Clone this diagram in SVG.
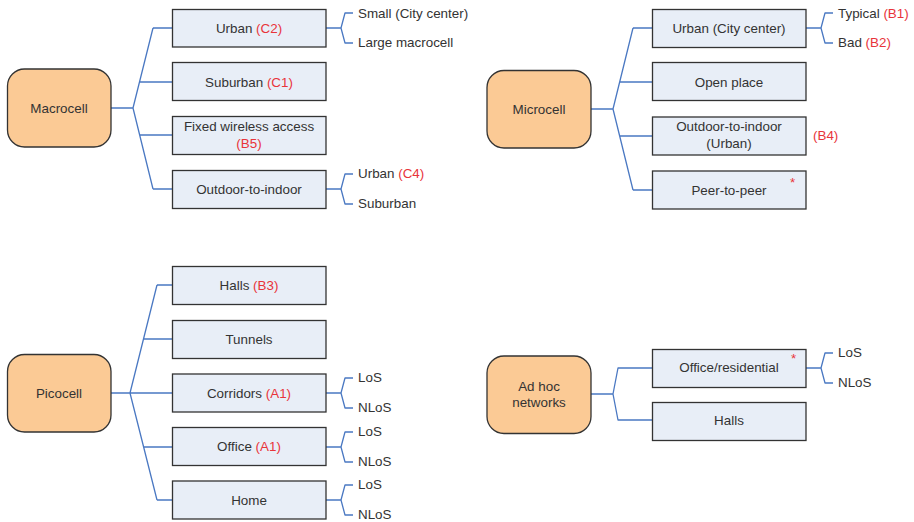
<svg xmlns="http://www.w3.org/2000/svg" width="914" height="522" viewBox="0 0 914 522">
  <style>
    .root { fill: #fbca95; stroke: #333333; stroke-width: 1.3; }
    .box { fill: #e8eef7; stroke: #333333; stroke-width: 1.3; }
    text { font-family: "Liberation Sans", Arial, sans-serif; font-size: 13.4px; fill: #333333; }
    .c { text-anchor: middle; }
    .red { fill: #e8343a; }
    .link { fill: none; stroke: #4a78c2; stroke-width: 1.3; stroke-linejoin: round; }
  </style>

  <!-- connectors -->
  <g id="connectors" class="link">
    <!-- Macrocell tree -->
    <path d="M111,108 H133 M153,28 L133,108 L153,189 M153,28 H172 M139.5,82 H172 M139.7,135 H172 M153,189 H172"/>
    <path d="M326,28 H341 M353,13 H345 L341,28 L345,43 H353"/>
    <path d="M326,189 H341 M353,174 H345 L341,189 L345,204 H353"/>
    <!-- Microcell tree -->
    <path d="M591,109 H613 M633,28 L613,109 L633,190 M633,28 H652 M619.7,82 H652 M619.7,136 H652 M633,190 H652"/>
    <path d="M806,28 H821 M833,13 H825 L821,28 L825,43 H833"/>
    <!-- Picocell tree -->
    <path d="M111,393 H130 M157,285 L130,393 L157,500 M157,285 H172 M143.5,339 H172 M130,393 H172 M143.5,447 H172 M157,500 H172"/>
    <path d="M326,393 H341 M353,378 H345 L341,393 L345,408 H353"/>
    <path d="M326,447 H341 M353,432 H345 L341,447 L345,462 H353"/>
    <path d="M326,500 H341 M353,485 H345 L341,500 L345,515 H353"/>
    <!-- Ad hoc tree -->
    <path d="M591,394 H613 M652,368 H618 L613,394 L618,420 H652"/>
    <path d="M806,368 H821 M833,353 H825 L821,368 L825,383 H833"/>
  </g>

  <!-- Macrocell -->
  <g id="macrocell">
    <rect class="root" x="7.5" y="69" width="103.5" height="78" rx="17"/>
    <text class="c" x="59" y="113">Macrocell</text>
  </g>
  <g id="macro-urban">
    <rect class="box" x="172.5" y="9.5" width="153.5" height="37.5"/>
    <text class="c" x="249" y="33">Urban <tspan class="red">(C2)</tspan></text>
  </g>
  <g id="macro-suburban">
    <rect class="box" x="172.5" y="62.5" width="153.5" height="38"/>
    <text class="c" x="249" y="87">Suburban <tspan class="red">(C1)</tspan></text>
  </g>
  <g id="macro-fwa">
    <rect class="box" x="172.5" y="116.5" width="153.5" height="38"/>
    <text class="c" x="249" y="131">Fixed wireless access</text>
    <text class="c red" x="249" y="148">(B5)</text>
  </g>
  <g id="macro-o2i">
    <rect class="box" x="172.5" y="170.5" width="153.5" height="38"/>
    <text class="c" x="249" y="194">Outdoor-to-indoor</text>
  </g>
  <g id="macro-urban-leaves">
    <text x="358" y="18">Small (City center)</text>
    <text x="358" y="47">Large macrocell</text>
  </g>
  <g id="macro-o2i-leaves">
    <text x="358" y="178">Urban <tspan class="red">(C4)</tspan></text>
    <text x="358" y="208">Suburban</text>
  </g>

  <!-- Microcell -->
  <g id="microcell">
    <rect class="root" x="487" y="70.5" width="104" height="77.5" rx="17"/>
    <text class="c" x="539" y="114">Microcell</text>
  </g>
  <g id="micro-urban">
    <rect class="box" x="652.5" y="9.5" width="153.5" height="38"/>
    <text class="c" x="729" y="33">Urban (City center)</text>
  </g>
  <g id="micro-open">
    <rect class="box" x="652.5" y="62.5" width="153.5" height="38"/>
    <text class="c" x="729" y="87">Open place</text>
  </g>
  <g id="micro-o2i">
    <rect class="box" x="652.5" y="117" width="153.5" height="38"/>
    <text class="c" x="729" y="131">Outdoor-to-indoor</text>
    <text class="c" x="729" y="148">(Urban)</text>
    <text class="red" x="813" y="140">(B4)</text>
  </g>
  <g id="micro-p2p">
    <rect class="box" x="652.5" y="171" width="153.5" height="38"/>
    <text class="c" x="729" y="195">Peer-to-peer</text>
    <text class="red" x="790" y="187">*</text>
  </g>
  <g id="micro-urban-leaves">
    <text x="838" y="18">Typical <tspan class="red">(B1)</tspan></text>
    <text x="838" y="47">Bad <tspan class="red">(B2)</tspan></text>
  </g>

  <!-- Picocell -->
  <g id="picocell">
    <rect class="root" x="7.5" y="354.5" width="103.5" height="77.5" rx="17"/>
    <text class="c" x="59" y="398">Picocell</text>
  </g>
  <g id="pico-halls">
    <rect class="box" x="172.5" y="266.5" width="153.5" height="38"/>
    <text class="c" x="249" y="290">Halls <tspan class="red">(B3)</tspan></text>
  </g>
  <g id="pico-tunnels">
    <rect class="box" x="172.5" y="320.5" width="153.5" height="38"/>
    <text class="c" x="249" y="344">Tunnels</text>
  </g>
  <g id="pico-corridors">
    <rect class="box" x="172.5" y="374" width="153.5" height="38"/>
    <text class="c" x="249" y="398">Corridors <tspan class="red">(A1)</tspan></text>
  </g>
  <g id="pico-office">
    <rect class="box" x="172.5" y="427.5" width="153.5" height="38"/>
    <text class="c" x="249" y="451">Office <tspan class="red">(A1)</tspan></text>
  </g>
  <g id="pico-home">
    <rect class="box" x="172.5" y="481" width="153.5" height="38"/>
    <text class="c" x="249" y="505">Home</text>
  </g>
  <g id="pico-corridors-leaves">
    <text x="358" y="382">LoS</text>
    <text x="358" y="412">NLoS</text>
  </g>
  <g id="pico-office-leaves">
    <text x="358" y="436">LoS</text>
    <text x="358" y="466">NLoS</text>
  </g>
  <g id="pico-home-leaves">
    <text x="358" y="489">LoS</text>
    <text x="358" y="519">NLoS</text>
  </g>

  <!-- Ad hoc networks -->
  <g id="adhoc">
    <rect class="root" x="487" y="356" width="104" height="77.5" rx="17"/>
    <text class="c" x="539" y="391">Ad hoc</text>
    <text class="c" x="539" y="407">networks</text>
  </g>
  <g id="adhoc-office">
    <rect class="box" x="652.5" y="349.5" width="153.5" height="38"/>
    <text class="c" x="729" y="372">Office/residential</text>
    <text class="red" x="791" y="363">*</text>
  </g>
  <g id="adhoc-halls">
    <rect class="box" x="652.5" y="402.5" width="153.5" height="38"/>
    <text class="c" x="729" y="425">Halls</text>
  </g>
  <g id="adhoc-office-leaves">
    <text x="838" y="357">LoS</text>
    <text x="838" y="387">NLoS</text>
  </g>
</svg>
